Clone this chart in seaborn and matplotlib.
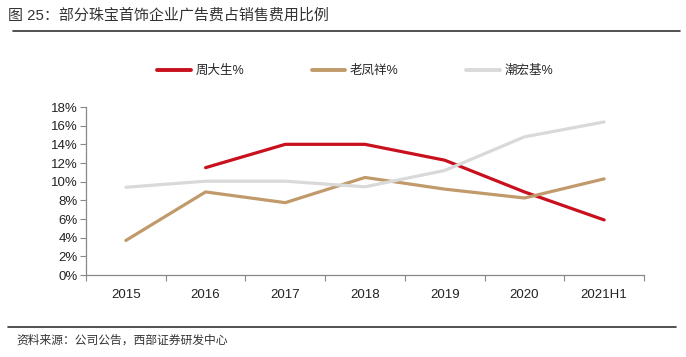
import pandas as pd
import numpy as np
import matplotlib
matplotlib.use('Agg')
import matplotlib.pyplot as plt
import seaborn as sns
from matplotlib.ticker import PercentFormatter, FixedLocator

# Data
years = ['2015', '2016', '2017', '2018', '2019', '2020', '2021H1']
zhoudasheng = [np.nan, 11.5, 14.0, 14.0, 12.3, 8.9, 5.9]
laofengxiang = [3.7, 8.9, 7.75, 10.45, 9.2, 8.25, 10.3]
chaohongji = [9.4, 10.05, 10.05, 9.45, 11.2, 14.8, 16.4]

series_names = ['周大生%', '老凤祥%', '潮宏基%']
colors = ['#C8101E', '#C19A6B', '#D9D9D9']

df = pd.DataFrame({
    'year': years * 3,
    'value': zhoudasheng + laofengxiang + chaohongji,
    'series': [s for s in series_names for _ in years],
})

sns.set_style('white')
# Latin text in an Arial-like face, CJK falls back to Noto
plt.rcParams['font.family'] = ['Liberation Sans', 'Noto Sans CJK SC', 'DejaVu Sans']

fig = plt.figure(figsize=(6.86, 3.57), dpi=100)
ax = fig.add_axes([86 / 686, 1 - 275 / 357, (644 - 86) / 686, (275 - 107) / 357])

sns.lineplot(data=df, x='year', y='value', hue='series', hue_order=series_names,
             palette=colors, linewidth=2.3, ax=ax, legend=False, sort=False)

ax.set_xlim(-0.5, len(years) - 0.5)
ax.set_ylim(0, 18)
ax.set_yticks(np.arange(0, 19, 2))
ax.yaxis.set_major_formatter(PercentFormatter(decimals=0))
ax.set_xlabel('')
ax.set_ylabel('')

# x ticks sit on category boundaries
ax.xaxis.set_minor_locator(FixedLocator(np.arange(-0.5, len(years), 1)))
ax.tick_params(axis='x', which='major', length=0, labelsize=9.5, pad=10)
ax.tick_params(axis='x', which='minor', length=4, width=0.8, color='#888888', direction='out', bottom=True)
ax.tick_params(axis='y', length=4, width=0.8, color='#888888', direction='out', left=True,
               labelsize=9.5, pad=2)
for lab in ax.get_yticklabels() + ax.get_xticklabels():
    lab.set_color('#222222')

for side in ['top', 'right']:
    ax.spines[side].set_visible(False)
for side in ['left', 'bottom']:
    ax.spines[side].set_color('#888888')
    ax.spines[side].set_linewidth(0.9)

# legend
handles = [plt.Line2D([], [], color=c, linewidth=2.8) for c in colors]
fig.legend(handles, series_names, loc='center', bbox_to_anchor=(355 / 686, 1 - 71 / 357),
           ncol=3, frameon=False, fontsize=9, handlelength=2.7, handletextpad=0.35,
           columnspacing=5.4)

# title, rules and source
fig.text(8 / 686, 1 - 15 / 357, '图 25：部分珠宝首饰企业广告费占销售费用比例',
         fontsize=10.8, color='#333333', va='center', ha='left')
fig.add_artist(plt.Line2D([13 / 686, 680 / 686], [1 - 31 / 357, 1 - 31 / 357],
                          color='#333333', linewidth=1.2, transform=fig.transFigure))
fig.add_artist(plt.Line2D([8 / 686, 676 / 686], [1 - 327 / 357, 1 - 327 / 357],
                          color='#333333', linewidth=1.2, transform=fig.transFigure))
fig.text(16 / 686, 1 - 341 / 357, '资料来源：公司公告，西部证券研发中心',
         fontsize=8.5, color='#333333', va='center', ha='left')

fig.savefig('out.png', dpi=100)
